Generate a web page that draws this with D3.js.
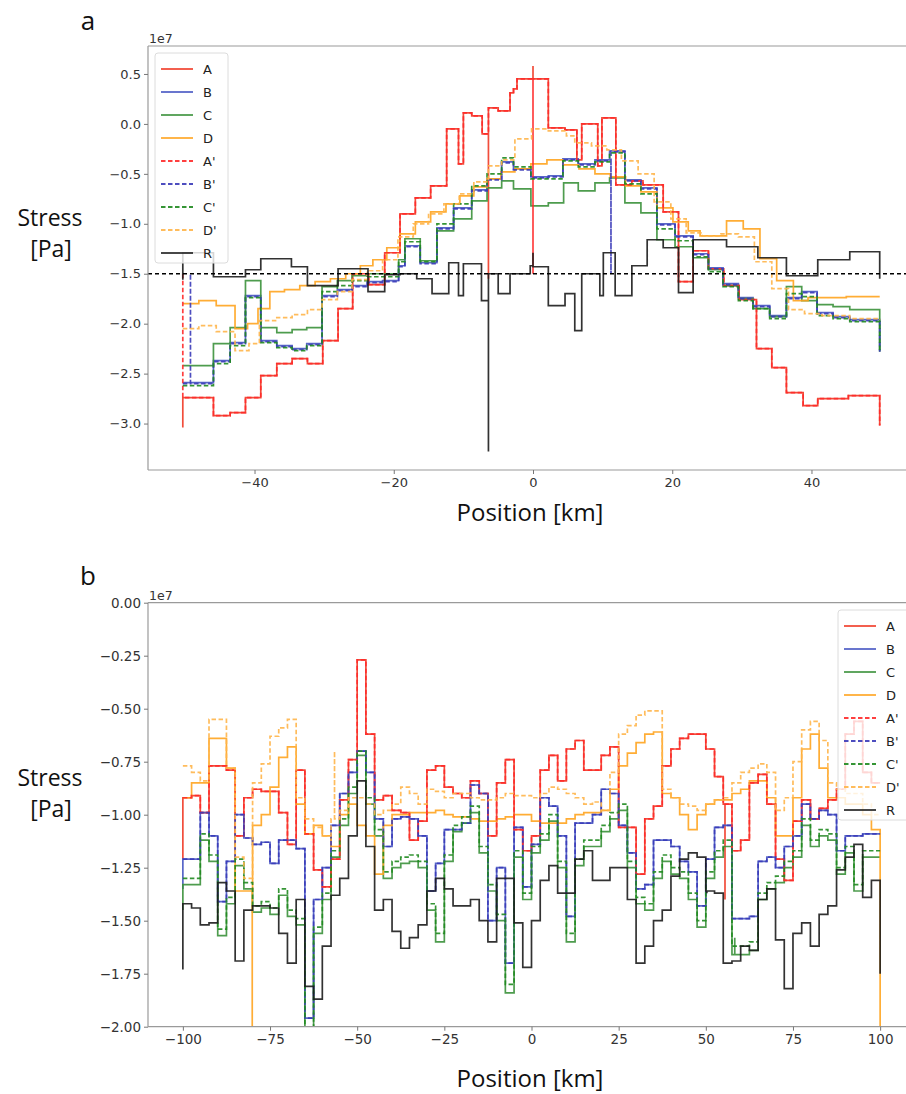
<!DOCTYPE html>
<html>
<head>
<meta charset="utf-8">
<script src="https://cdn.jsdelivr.net/npm/d3@7/dist/d3.min.js"></script>
<style>
  body { margin: 0; background: #fff; }
  svg text { font-family: "DejaVu Sans", sans-serif; }
</style>
</head>
<body>
<svg id="fig" width="906" height="1094"></svg>
<script>
// ---- series definitions (shared by both panels)
const seriesNames  = ["A", "B", "C", "D", "A'", "B'", "C'", "D'", "R"];
const seriesColors = ["#f03a26", "#4655c2", "#3b913b", "#ffa41f", "#ff2a2a", "#3a3ab8", "#1f8a1f", "#ffb54a", "#1c1c1c"];
const seriesDashed = [false, false, false, false, true, true, true, true, false];

// ---- panel a : step series as [position km, stress 1e7 Pa] (each point starts a step)
const aA = [[-50.3,-3.04],[-50.3,-2.74],[-45.9,-2.92],[-43.5,-2.89],[-41.3,-2.74],[-39.1,-2.52],[-36.8,-2.40],[-34.6,-2.35],[-32.4,-2.40],[-30.2,-2.17],[-28.0,-1.85],[-25.9,-1.50],[-23.6,-1.61],[-21.3,-1.29],[-19.1,-0.90],[-16.9,-0.74],[-14.7,-0.62],[-12.4,-0.05],[-10.7,-0.40],[-10.0,0.11],[-8.8,0.08],[-7.3,-0.10],[-6.4,-1.55],[-6.4,0.16],[-5.0,0.13],[-3.3,0.31],[-2.8,0.35],[-2.3,0.45],[0,0.58],[0,0.45],[2.2,-0.04],[4.6,-0.06],[6.3,-0.36],[7.0,0.00],[9.3,-0.42],[9.9,0.06],[11.9,-0.61],[14.2,-0.57],[15.8,-0.61],[18.7,-0.88],[20.9,-1.58],[23.0,-1.27],[25.2,-1.45],[27.4,-1.62],[29.6,-1.76],[32.1,-2.25],[34.3,-2.44],[36.4,-2.69],[38.8,-2.82],[40.9,-2.75],[45.3,-2.72],[49.8,-3.02]];
const aB = [[-50.3,-2.59],[-45.9,-2.37],[-43.5,-2.19],[-41.3,-1.72],[-39.1,-2.17],[-36.8,-2.22],[-34.6,-2.25],[-32.5,-2.20],[-30.3,-1.72],[-28.1,-1.66],[-26.0,-1.62],[-23.8,-1.58],[-21.6,-1.57],[-19.3,-1.42],[-18.4,-1.22],[-16.2,-1.39],[-13.8,-1.04],[-11.4,-0.84],[-8.8,-0.66],[-6.6,-0.55],[-4.5,-0.38],[-2.8,-0.45],[-0.3,-0.53],[2.2,-0.52],[4.3,-0.35],[6.5,-0.40],[8.9,-0.36],[11.0,-0.27],[13.2,-0.56],[15.5,-0.64],[17.8,-1.00],[20.4,-1.12],[23.0,-1.30],[25.2,-1.44],[27.3,-1.60],[29.5,-1.74],[31.6,-1.82],[34.0,-1.92],[36.4,-1.74],[38.6,-1.68],[40.8,-1.89],[43.1,-1.93],[45.5,-1.96],[49.8,-2.27]];
const aC = [[-50.3,-2.42],[-45.9,-2.20],[-43.5,-2.04],[-41.3,-1.57],[-39.1,-2.04],[-36.8,-2.09],[-34.6,-2.06],[-32.5,-2.04],[-30.3,-1.63],[-28.1,-1.57],[-26.0,-1.52],[-23.8,-1.50],[-21.6,-1.50],[-19.3,-1.36],[-18.4,-1.15],[-16.2,-1.37],[-13.8,-1.07],[-11.4,-0.95],[-8.8,-0.77],[-6.6,-0.64],[-4.5,-0.57],[-2.8,-0.65],[-0.3,-0.82],[2.2,-0.79],[4.4,-0.59],[6.5,-0.67],[8.9,-0.59],[11.0,-0.54],[13.2,-0.79],[15.5,-0.89],[17.8,-1.16],[20.4,-1.23],[23.0,-1.34],[25.2,-1.46],[27.3,-1.62],[29.5,-1.75],[31.6,-1.85],[34.0,-1.93],[36.4,-1.63],[38.6,-1.77],[40.8,-1.81],[43.1,-1.83],[45.5,-1.86],[49.8,-2.28]];
const aD = [[-50.3,-1.80],[-48.0,-1.77],[-45.5,-1.82],[-42.8,-2.05],[-41.0,-2.00],[-39.5,-1.85],[-37.8,-1.68],[-35.7,-1.66],[-33.5,-1.62],[-31.3,-1.58],[-29.1,-1.55],[-26.9,-1.50],[-24.8,-1.42],[-23.0,-1.36],[-21.0,-1.24],[-19.1,-1.10],[-16.9,-0.98],[-14.7,-0.88],[-12.5,-0.80],[-10.5,-0.72],[-8.5,-0.63],[-6.6,-0.55],[-4.6,-0.48],[-2.6,-0.45],[-0.3,-0.40],[2.0,-0.36],[4.3,-0.41],[6.6,-0.45],[8.9,-0.50],[11.1,-0.53],[13.3,-0.62],[15.5,-0.68],[17.8,-0.84],[20.1,-0.98],[22.3,-1.07],[24.0,-1.12],[27.8,-0.97],[30.2,-1.05],[32.6,-1.35],[35.0,-1.57],[37.4,-1.77],[39.5,-1.74],[45.0,-1.73],[49.8,-1.73]];
const aAp = [[-50.3,-1.50],[-50.3,-2.74],[-45.9,-2.92],[-43.5,-2.89],[-41.3,-2.74],[-39.1,-2.52],[-36.8,-2.40],[-34.6,-2.35],[-32.4,-2.40],[-30.2,-2.17],[-28.0,-1.85],[-25.9,-1.50],[-23.6,-1.61],[-21.3,-1.29],[-19.1,-0.90],[-16.9,-0.74],[-14.7,-0.62],[-12.4,-0.05],[-10.7,-0.40],[-10.0,0.11],[-8.8,0.08],[-7.3,-0.10],[-6.4,0.16],[-5.0,0.13],[-3.3,0.31],[-2.8,0.35],[-2.3,0.45],[0,-1.50],[0,0.45],[2.2,-0.04],[4.6,-0.06],[6.3,-0.36],[7.0,0.00],[9.3,-0.42],[9.9,0.06],[11.9,-0.61],[14.2,-0.57],[15.8,-0.61],[18.7,-0.88],[20.9,-1.58],[23.0,-1.27],[25.2,-1.45],[27.4,-1.62],[29.6,-1.76],[32.1,-2.25],[34.3,-2.44],[36.4,-2.69],[38.8,-2.82],[40.9,-2.75],[45.3,-2.72],[49.8,-3.02]];
const aBp = [[-50.3,-2.60],[-49.2,-1.50],[-49.2,-2.60],[-45.9,-2.38],[-43.5,-2.20],[-41.3,-1.73],[-39.1,-2.18],[-36.8,-2.23],[-34.6,-2.26],[-32.5,-2.21],[-30.3,-1.73],[-28.1,-1.67],[-26.0,-1.63],[-23.8,-1.59],[-21.6,-1.58],[-19.3,-1.43],[-18.4,-1.23],[-16.2,-1.40],[-13.8,-1.05],[-11.4,-0.85],[-8.8,-0.67],[-6.6,-0.56],[-4.5,-0.39],[-2.8,-0.46],[-0.3,-0.54],[2.2,-0.53],[4.3,-0.36],[6.5,-0.41],[8.9,-0.37],[11.2,-1.50],[11.2,-0.28],[13.2,-0.57],[15.5,-0.65],[17.8,-1.01],[20.4,-1.13],[23.0,-1.31],[25.2,-1.45],[27.3,-1.61],[29.5,-1.75],[31.6,-1.83],[34.0,-1.93],[36.4,-1.75],[38.6,-1.69],[40.8,-1.90],[43.1,-1.94],[45.5,-1.97],[49.8,-2.28]];
const aCp = [[-50.3,-2.62],[-45.9,-2.40],[-43.5,-2.22],[-41.3,-1.74],[-39.1,-2.19],[-36.8,-2.24],[-34.6,-2.27],[-32.5,-2.22],[-30.3,-1.68],[-28.1,-1.62],[-26.0,-1.57],[-23.8,-1.53],[-21.6,-1.53],[-19.3,-1.38],[-18.4,-1.18],[-16.2,-1.38],[-13.8,-1.00],[-11.4,-0.80],[-8.8,-0.62],[-6.6,-0.50],[-4.5,-0.34],[-2.8,-0.43],[-0.3,-0.55],[2.2,-0.55],[4.3,-0.37],[6.5,-0.43],[8.9,-0.38],[11.0,-0.29],[13.2,-0.60],[15.5,-0.70],[17.8,-1.05],[20.4,-1.17],[23.0,-1.33],[25.2,-1.48],[27.3,-1.63],[29.5,-1.77],[31.6,-1.85],[34.0,-1.95],[36.4,-1.70],[38.6,-1.73],[40.8,-1.92],[43.1,-1.95],[45.5,-1.98],[49.8,-2.27]];
const aDp = [[-50.3,-2.05],[-48.0,-2.02],[-45.5,-2.08],[-42.8,-2.27],[-40.8,-2.20],[-39.3,-1.97],[-36.8,-1.94],[-34.6,-1.91],[-32.4,-1.86],[-30.3,-1.76],[-28.1,-1.68],[-26.0,-1.56],[-23.8,-1.47],[-21.6,-1.36],[-19.4,-1.13],[-17.2,-1.00],[-15.0,-0.90],[-12.8,-0.80],[-10.6,-0.70],[-8.5,-0.58],[-6.4,-0.42],[-4.5,-0.36],[-2.6,-0.15],[-0.2,-0.05],[2.2,-0.07],[4.8,-0.12],[6.0,-0.19],[8.4,-0.22],[10.6,-0.26],[12.7,-0.37],[15.1,-0.50],[17.4,-0.78],[19.8,-0.95],[22.0,-1.09],[24.3,-1.12],[27.0,-1.10],[29.5,-1.13],[31.8,-1.38],[34.3,-1.65],[36.7,-1.86],[39.0,-1.90],[41.5,-1.92],[45.5,-1.95],[49.8,-1.96]];
const aR = [[-50.3,-1.56],[-50.3,-1.29],[-45.9,-1.53],[-41.3,-1.46],[-39.1,-1.35],[-34.7,-1.43],[-32.4,-1.62],[-28.0,-1.45],[-23.7,-1.68],[-21.3,-1.51],[-19.1,-1.50],[-16.7,-1.55],[-14.5,-1.70],[-12.1,-1.39],[-10.7,-1.72],[-10.0,-1.40],[-7.4,-1.77],[-6.4,-3.28],[-6.4,-1.50],[-5.0,-1.70],[-3.3,-1.50],[-0.4,-1.42],[0,-1.29],[0,-1.43],[2.2,-1.82],[4.6,-1.70],[6.0,-2.07],[7.0,-1.50],[9.6,-1.72],[10.1,-1.29],[11.8,-1.72],[14.2,-1.42],[16.4,-1.16],[18.7,-1.24],[20.9,-1.69],[23.0,-1.16],[27.8,-1.23],[32.3,-1.34],[36.4,-1.52],[40.9,-1.36],[45.5,-1.28],[49.8,-1.55]];
const aThreshold = -1.5;
const aYTicks = [0.5, 0.0, -0.5, -1.0, -1.5, -2.0, -2.5, -3.0];
const aXTicks = [-40, -20, 0, 20, 40];

// ---- panel b : 2.5 km cells, one value per cell
const bEdges = [-100,-97.5,-95,-92.5,-90,-87.5,-85,-82.5,-80,-77.5,-75,-72.5,-70,-67.5,-65,-62.5,-60,-57.5,-55,-52.5,-50,-47.5,-45,-42.5,-40,-37.5,-35,-32.5,-30,-27.5,-25,-22.5,-20,-17.5,-15,-12.5,-10,-7.5,-5,-2.5,0,2.5,5,7.5,10,12.5,15,17.5,20,22.5,25,27.5,30,32.5,35,37.5,40,42.5,45,47.5,50,52.5,55,57.5,60,62.5,65,67.5,70,72.5,75,77.5,80,82.5,85,87.5,90,92.5,95,97.5,100];
const bA = [-0.92,-0.91,-0.99,-0.77,-0.77,-0.79,-1.10,-0.92,-0.88,-0.89, -0.89,-0.99,-1.14,-0.79,-1.09,-1.26,-1.34,-1.21,-0.93,-0.74, -0.27,-0.62,-0.93,-0.91,-0.98,-0.99,-1.12,-1.03,-0.79,-0.77, -0.87,-0.90,-0.92,-0.84,-0.90,-1.10,-0.85,-0.74,-1.07,-1.17, -1.10,-0.79,-0.72,-0.84,-0.69,-0.65,-0.79,-0.79,-0.72,-0.68, -1.06,-1.06,-1.28,-1.02,-0.96,-0.77,-0.69,-0.64,-0.62,-0.62, -0.69,-0.82,-0.95,-1.17,-1.12,-0.85,-0.81,-0.95,-1.21,-1.31, -1.03,-0.93,-1.02,-0.97,-0.93,-0.88,-0.62,-0.56,-0.80,-0.85];
const bB = [-1.21,-1.21,-0.99,-1.10,-1.41,-1.22,-1.00,-1.11,-1.14,-1.13, -1.23,-1.12,-1.12,-1.16,-1.96,-1.40,-1.25,-1.05,-0.90,-0.80, -0.70,-0.80,-1.02,-1.15,-1.02,-1.01,-1.02,-1.10,-1.36,-1.23, -1.07,-1.07,-1.04,-0.86,-0.90,-1.50,-1.25,-1.70,-1.06,-1.34, -1.14,-0.92,-0.96,-1.10,-1.48,-1.04,-1.04,-1.00,-0.88,-0.90, -1.05,-1.18,-1.35,-1.33,-1.12,-1.12,-1.15,-1.22,-1.27,-1.43, -1.21,-1.06,-1.05,-1.49,-1.49,-1.48,-1.22,-1.20,-1.25,-1.15, -1.10,-0.95,-1.02,-0.98,-1.00,-1.17,-1.10,-1.10,-1.09,-1.09];
const bC = [-1.33,-1.33,-1.12,-1.22,-1.57,-1.42,-1.24,-1.35,-1.46,-1.44, -1.47,-1.38,-1.48,-1.52,-2.05,-1.56,-1.40,-1.20,-1.05,-0.90, -0.72,-0.95,-1.10,-1.30,-1.25,-1.23,-1.22,-1.25,-1.45,-1.60, -1.22,-1.08,-1.04,-0.99,-1.18,-1.36,-1.50,-1.84,-1.20,-1.40, -1.18,-1.12,-1.03,-1.25,-1.60,-1.24,-1.15,-1.15,-1.08,-1.02, -0.98,-1.25,-1.42,-1.45,-1.30,-1.22,-1.28,-1.30,-1.40,-1.53, -1.30,-1.20,-1.15,-1.66,-1.66,-1.64,-1.40,-1.35,-1.32,-1.25, -1.20,-1.05,-1.15,-1.10,-1.12,-1.28,-1.18,-1.36,-1.20,-1.20];
const bD = [-0.92,-0.85,-0.85,-0.64,-0.64,-0.78,-1.36,-1.36,-1.05,-1.00, -0.87,-0.73,-0.68,-0.95,-1.09,-1.05,-1.10,-1.15,-1.00,-0.95, -1.05,-1.10,-1.28,-1.05,-1.00,-1.00,-0.99,-0.99,-0.99,-0.98, -1.00,-1.01,-1.01,-1.02,-1.03,-1.03,-1.02,-1.01,-1.00,-1.00, -1.03,-1.04,-1.04,-1.04,-1.02,-1.00,-0.99,-0.99,-0.98,-0.88, -0.77,-0.71,-0.66,-0.62,-0.61,-0.90,-0.92,-1.00,-1.07,-1.00, -0.95,-0.93,-0.93,-0.90,-0.88,-0.84,-0.84,-0.92,-1.10,-1.10, -0.92,-0.69,-0.62,-0.78,-0.92,-0.92,-0.95,-0.95,-1.00,-1.07];
const bAp = [-0.92,-0.91,-0.99,-0.77,-0.77,-0.79,-1.10,-0.92,-0.88,-0.89, -0.89,-0.99,-1.14,-0.79,-1.09,-1.26,-1.34,-1.21,-0.93,-0.74, -0.27,-0.62,-0.93,-0.91,-0.98,-0.99,-1.12,-1.03,-0.79,-0.77, -0.87,-0.90,-0.92,-0.84,-0.90,-1.10,-0.85,-0.74,-1.07,-1.17, -1.10,-0.79,-0.72,-0.84,-0.69,-0.65,-0.79,-0.79,-0.72,-0.68, -1.06,-1.06,-1.28,-1.02,-0.96,-0.77,-0.69,-0.64,-0.62,-0.62, -0.69,-0.82,-0.95,-1.17,-1.12,-0.85,-0.81,-0.95,-1.21,-1.31, -1.03,-0.93,-1.02,-0.97,-0.93,-0.88,-0.62,-0.56,-0.80,-0.85];
const bBp = [-1.21,-1.21,-0.99,-1.10,-1.41,-1.22,-1.00,-1.11,-1.14,-1.13, -1.23,-1.12,-1.12,-1.16,-1.96,-1.40,-1.25,-1.05,-0.90,-0.80, -0.70,-0.80,-1.02,-1.15,-1.02,-1.01,-1.02,-1.10,-1.36,-1.23, -1.07,-1.07,-1.04,-0.86,-0.90,-1.50,-1.25,-1.70,-1.06,-1.34, -1.14,-0.92,-0.96,-1.10,-1.48,-1.04,-1.04,-1.00,-0.88,-0.90, -1.05,-1.18,-1.35,-1.33,-1.12,-1.12,-1.15,-1.22,-1.27,-1.43, -1.21,-1.06,-1.05,-1.49,-1.49,-1.48,-1.22,-1.20,-1.25,-1.15, -1.10,-0.95,-1.02,-0.98,-1.00,-1.17,-1.10,-1.10,-1.09,-1.09];
const bCp = [-1.30,-1.30,-1.09,-1.19,-1.54,-1.39,-1.21,-1.32,-1.43,-1.41, -1.44,-1.35,-1.45,-1.49,-2.05,-1.53,-1.37,-1.17,-1.02,-0.87, -0.70,-0.92,-1.07,-1.27,-1.22,-1.20,-1.19,-1.22,-1.42,-1.56, -1.19,-1.05,-1.01,-0.96,-1.15,-1.33,-1.47,-1.80,-1.17,-1.37, -1.15,-1.09,-1.00,-1.22,-1.56,-1.21,-1.12,-1.12,-1.05,-0.99, -0.95,-1.22,-1.39,-1.42,-1.27,-1.19,-1.25,-1.27,-1.37,-1.50, -1.27,-1.17,-1.12,-1.62,-1.62,-1.60,-1.37,-1.32,-1.29,-1.22, -1.17,-1.02,-1.12,-1.07,-1.09,-1.25,-1.15,-1.33,-1.17,-1.17];
const bDp = [-0.77,-0.80,-0.84,-0.55,-0.55,-0.78,-1.20,-1.30,-0.85,-0.76, -0.63,-0.59,-0.55,-0.92,-1.02,-1.06,-1.10,-1.02,-0.98,-0.92, -0.92,-0.95,-1.00,-0.98,-0.95,-0.87,-0.90,-0.95,-0.88,-0.89, -0.92,-0.90,-0.90,-0.92,-0.93,-0.93,-0.92,-0.90,-0.91,-0.91, -0.92,-0.90,-0.87,-0.88,-0.90,-0.92,-0.95,-0.94,-0.98,-0.80, -0.62,-0.58,-0.53,-0.51,-0.51,-0.88,-0.92,-0.95,-0.96,-0.98, -0.95,-0.93,-0.92,-0.85,-0.80,-0.78,-0.76,-0.80,-0.98,-0.92, -0.75,-0.60,-0.56,-0.65,-0.85,-0.88,-0.90,-0.90,-0.95,-1.00];
const bR = [-1.42,-1.44,-1.52,-1.51,-1.32,-1.36,-1.69,-1.45,-1.43,-1.43, -1.44,-1.56,-1.70,-1.40,-1.81,-1.87,-1.62,-1.38,-1.30,-1.10, -0.84,-1.15,-1.45,-1.40,-1.55,-1.63,-1.58,-1.52,-1.36,-1.30, -1.35,-1.43,-1.43,-1.40,-1.50,-1.60,-1.30,-1.30,-1.51,-1.72, -1.50,-1.31,-1.24,-1.37,-1.37,-1.21,-1.17,-1.31,-1.31,-1.25, -1.25,-1.40,-1.70,-1.62,-1.50,-1.45,-1.29,-1.21,-1.18,-1.20, -1.36,-1.37,-1.70,-1.69,-1.62,-1.64,-1.40,-1.35,-1.59,-1.82, -1.56,-1.51,-1.62,-1.47,-1.43,-1.26,-1.20,-1.14,-1.39,-1.31];
// narrow spikes in panel b: [series, position km, stress]
const bSpikes = [["A",-100,-1.21],["R",-100,-1.73],["B",-100,-1.35],["C",-100,-1.45],["D",-80.1,-2.2],["D",100,-2.2],["R",100,-1.75],["A",55.5,-1.40],["C",58.3,-1.58],["D'",-56.5,-0.70],["R",50.3,-1.37]];
const bYTicks = [0, -0.25, -0.5, -0.75, -1.0, -1.25, -1.5, -1.75, -2.0];
const bXTicks = [-100, -75, -50, -25, 0, 25, 50, 75, 100];

const svg = d3.select("#fig");
svg.append("rect").attr("width", 906).attr("height", 1094).attr("fill", "#fff");

const line = d3.line().curve(d3.curveStepAfter);

function bPoints(vals, name) {
  const sp = bSpikes.filter(s => s[0] === name).sort((a, b) => a[1] - b[1]);
  const pts = [];
  let k = 0;
  for (let i = 0; i < vals.length; i++) {
    pts.push([bEdges[i], vals[i]]);
    while (k < sp.length && sp[k][1] < bEdges[i + 1]) {
      pts.push([sp[k][1], sp[k][2]], [sp[k][1], vals[i]]);
      k++;
    }
  }
  pts.push([bEdges[vals.length], vals[vals.length - 1]]);
  while (k < sp.length) { pts.push([sp[k][1], sp[k][2]]); k++; }
  return pts;
}

function drawPanel(opt) {
  const g = svg.append("g");
  const x = d3.scaleLinear().domain(opt.xDom).range([opt.left, opt.right]);
  const y = d3.scaleLinear().domain(opt.yDom).range([opt.bottom, opt.top]);
  const clipId = "clip" + opt.id;
  svg.append("clipPath").attr("id", clipId).append("rect")
    .attr("x", opt.left).attr("y", opt.top)
    .attr("width", opt.right - opt.left).attr("height", opt.bottom - opt.top);

  const plot = g.append("g").attr("clip-path", "url(#" + clipId + ")");
  line.x(d => x(d[0])).y(d => y(d[1]));
  opt.data.forEach((pts, i) => {
    plot.append("path")
      .attr("d", line(pts))
      .attr("fill", "none")
      .attr("stroke", seriesColors[i])
      .attr("stroke-width", 1.7)
      .attr("stroke-opacity", 0.9)
      .attr("stroke-dasharray", seriesDashed[i] ? "4.5,2.5" : null);
  });
  if (opt.threshold !== undefined) {
    plot.append("line")
      .attr("x1", opt.left).attr("x2", opt.right)
      .attr("y1", y(opt.threshold)).attr("y2", y(opt.threshold))
      .attr("stroke", "#000").attr("stroke-width", 1.7)
      .attr("stroke-dasharray", "4,3");
  }

  // spines (the right one lies past the picture edge)
  const spine = "#9a9a9a";
  g.append("line").attr("x1", opt.left).attr("x2", 906).attr("y1", opt.top).attr("y2", opt.top).attr("stroke", spine).attr("stroke-width", 1.2);
  g.append("line").attr("x1", opt.left).attr("x2", 906).attr("y1", opt.bottom).attr("y2", opt.bottom).attr("stroke", spine).attr("stroke-width", 1.2);
  g.append("line").attr("x1", opt.left).attr("x2", opt.left).attr("y1", opt.top).attr("y2", opt.bottom).attr("stroke", spine).attr("stroke-width", 1.2);

  // axes
  const xAxis = g.append("g").attr("transform", "translate(0," + opt.bottom + ")")
    .call(d3.axisBottom(x).tickValues(opt.xTicks).tickSize(4).tickPadding(4).tickSizeOuter(0).tickFormat(d3.format("d")));
  const yAxis = g.append("g").attr("transform", "translate(" + opt.left + ",0)")
    .call(d3.axisLeft(y).tickValues(opt.yTicks).tickSize(4).tickPadding(3).tickSizeOuter(0).tickFormat(d3.format(opt.yFmt)));
  [xAxis, yAxis].forEach(ax => {
    ax.select(".domain").remove();
    ax.selectAll(".tick line").attr("stroke", "#777");
    ax.selectAll(".tick text").attr("fill", "#333").style("font-size", opt.tickSize).style("font-family", "DejaVu Sans, sans-serif");
  });

  g.append("text").attr("x", opt.left + 1).attr("y", opt.top - 3)
    .attr("fill", "#333").style("font-size", "12.5px").text("1e7");

  // legend
  const lg = g.append("g");
  lg.append("rect").attr("x", opt.legX).attr("y", opt.legY).attr("width", opt.legW).attr("height", 210)
    .attr("rx", 3).attr("fill", "#fff").attr("fill-opacity", 0.8).attr("stroke", "#dcdcdc");
  seriesNames.forEach((n, i) => {
    const yy = opt.legY + 16 + i * 23;
    lg.append("line").attr("x1", opt.legX + 6).attr("x2", opt.legX + 38).attr("y1", yy).attr("y2", yy)
      .attr("stroke", seriesColors[i]).attr("stroke-width", 1.8).attr("stroke-opacity", 0.9)
      .attr("stroke-dasharray", seriesDashed[i] ? "4.5,2.5" : null);
    lg.append("text").attr("x", opt.legX + 48).attr("y", yy + 4.5).attr("fill", "#222")
      .style("font-size", "13px").text(n);
  });

  // labels
  const fam = "'Open Sans', 'Noto Sans', sans-serif";
  g.append("text").attr("x", 50).attr("y", opt.stressY).attr("text-anchor", "middle")
    .style("font-family", fam).style("font-size", "23px").attr("fill", "#111").text("Stress");
  g.append("text").attr("x", 51).attr("y", opt.stressY + 31).attr("text-anchor", "middle")
    .style("font-family", fam).style("font-size", "23px").attr("fill", "#111").text("[Pa]");
  g.append("text").attr("x", 530).attr("y", opt.posY).attr("text-anchor", "middle")
    .style("font-family", fam).style("font-size", "24px").attr("fill", "#111").text("Position [km]");
  g.append("text").attr("x", 88).attr("y", opt.letterY).attr("text-anchor", "middle")
    .style("font-family", fam).style("font-size", "26px").attr("fill", "#111").text(opt.letter);
}

drawPanel({
  id: "a", letter: "a", letterY: 30,
  xDom: [-55.3, 55.3], yDom: [-3.465, 0.78],
  left: 148, right: 918, top: 46, bottom: 470,
  xTicks: aXTicks, yTicks: aYTicks, yFmt: ".1f", tickSize: "13px",
  data: [aA, aB, aC, aD, aAp, aBp, aCp, aDp, aR],
  threshold: aThreshold,
  legX: 155, legY: 53, legW: 73,
  stressY: 226, posY: 521
});

const bVals = [bA, bB, bC, bD, bAp, bBp, bCp, bDp, bR];
drawPanel({
  id: "b", letter: "b", letterY: 585,
  xDom: [-110, 110], yDom: [-2.0, 0.0],
  left: 148, right: 915, top: 602.7, bottom: 1026.7,
  xTicks: bXTicks, yTicks: bYTicks, yFmt: ".2f", tickSize: "13.5px",
  data: bVals.map((v, i) => bPoints(v, seriesNames[i])),
  legX: 838, legY: 610, legW: 80,
  stressY: 786, posY: 1087
});
</script>
</body>
</html>
